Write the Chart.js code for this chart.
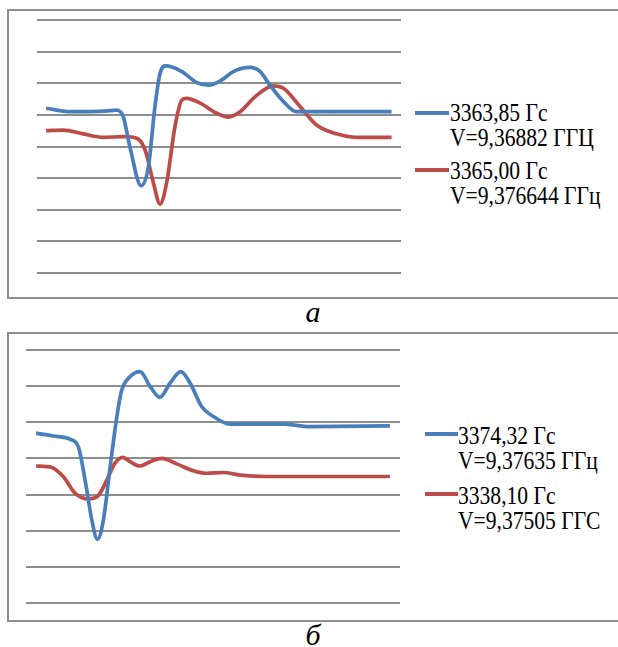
<!DOCTYPE html>
<html><head><meta charset="utf-8">
<script src="https://cdn.jsdelivr.net/npm/chart.js@4/dist/chart.umd.min.js"></script>
<style>
html,body{margin:0;padding:0;background:#fff;}
body{width:618px;height:647px;overflow:hidden;position:relative;font-family:"Liberation Serif","Times New Roman",serif;}
.box{position:absolute;border:2px solid #8f8f8f;box-sizing:border-box;}
.cv{position:absolute;}
.sw{position:absolute;height:4px;}
.txt{position:absolute;font-size:26px;line-height:25px;transform:scaleX(0.83);transform-origin:0 0;color:#000;white-space:nowrap;}
.cap{position:absolute;font-style:italic;font-size:30px;line-height:30px;width:40px;text-align:center;color:#000;}
</style>
</head><body>
<div class="box" style="left:7px;top:9px;width:700px;height:290px;"></div>
<div class="box" style="left:7px;top:332px;width:700px;height:290px;"></div>
<canvas id="cA" class="cv" width="384" height="273" style="left:27px;top:10px;"></canvas>
<canvas id="cB" class="cv" width="394" height="273" style="left:16px;top:340px;"></canvas>
<div id="legA"></div>
<div id="legB"></div>
<div class="cap" style="left:293px;top:297px;">а</div>
<div class="cap" style="left:293px;top:620px;">б</div>
<script>
// ---- Chart (а) ----
const labelsA = [["3363,85 Гс", "V=9,36882 ГГЦ"], ["3365,00 Гс", "V=9,376644 ГГц"]];
const blueA_x = [2.5, 9.1, 18.7, 21.9, 23.7, 25.5, 28.6, 30.6, 32.4, 33.8, 35.4, 39.8, 43.9, 47.1, 50.7, 53.9, 58.5, 61.3, 64.0, 67.7, 71.3, 75.0, 97.4];
const blueA_y = [5.21, 5.10, 5.12, 5.15, 4.94, 4.00, 2.76, 3.36, 5.26, 6.31, 6.55, 6.37, 6.02, 5.94, 6.10, 6.37, 6.50, 6.37, 5.94, 5.42, 5.10, 5.10, 5.10];
const redA_x = [2.5, 7.2, 12.7, 18.2, 23.7, 27.4, 29.7, 32.0, 33.8, 35.6, 37.9, 39.8, 41.1, 44.8, 49.4, 52.5, 55.8, 59.9, 64.9, 67.7, 72.3, 76.8, 82.3, 87.8, 97.4];
const redA_y = [4.50, 4.52, 4.40, 4.29, 4.31, 4.26, 3.89, 2.84, 2.18, 2.84, 4.63, 5.47, 5.52, 5.37, 5.05, 4.93, 5.10, 5.57, 5.92, 5.84, 5.26, 4.68, 4.40, 4.29, 4.29];
const yTicksA = [0, 1, 2, 3, 4, 5, 6, 7, 8];

// ---- Chart (б) ----
const labelsB = [["3374,32 Гс", "V=9,37635 ГГц"], ["3338,10 Гс", "V=9,37505 ГГС"]];
const blueB_x = [2.7, 7.3, 11.8, 14.0, 15.8, 17.6, 19.1, 20.7, 22.5, 24.3, 25.6, 27.8, 30.5, 33.2, 35.8, 38.5, 41.4, 43.9, 47.0, 50.1, 54.5, 68.8, 75.9, 97.3];
const blueB_y = [4.70, 4.62, 4.53, 4.32, 3.40, 2.30, 1.76, 2.30, 3.77, 5.16, 5.89, 6.26, 6.40, 5.99, 5.69, 6.08, 6.40, 6.08, 5.43, 5.16, 4.95, 4.95, 4.88, 4.90];
const redB_x = [2.7, 6.9, 10.0, 13.1, 16.7, 19.3, 21.6, 23.8, 25.9, 27.8, 30.5, 33.2, 36.3, 40.3, 44.7, 48.3, 52.8, 57.2, 64.4, 97.3];
const redB_y = [3.79, 3.75, 3.49, 3.04, 2.88, 2.97, 3.40, 3.87, 4.03, 3.91, 3.79, 3.91, 4.00, 3.85, 3.66, 3.59, 3.61, 3.54, 3.50, 3.50];
const yTicksB = [0, 1, 2, 3, 4, 5, 6, 7];

const BLUE = '#4a7ebb', RED = '#be4b48';
const zip = (xs, ys) => xs.map((x, i) => ({x: x, y: ys[i]}));

function makeChart(id, series, ticks) {
  return new Chart(document.getElementById(id), {
    type: 'line',
    data: {
      datasets: series.map(s => ({
        data: zip(s.x, s.y), borderColor: s.c, borderWidth: 3.7, pointRadius: 0,
        cubicInterpolationMode: 'monotone', fill: false
      }))
    },
    options: {
      responsive: false, animation: false, devicePixelRatio: 1,
      layout: {padding: 10},
      plugins: {legend: {display: false}, tooltip: {enabled: false}},
      scales: {
        x: {type: 'linear', min: 0, max: 100, display: false},
        y: {
          min: ticks[0], max: ticks[ticks.length - 1],
          afterBuildTicks: sc => { sc.ticks = ticks.map(v => ({value: v})); },
          ticks: {display: false},
          grid: {color: '#8e8e8e', lineWidth: 2, drawTicks: false},
          border: {display: false}
        }
      }
    }
  });
}
makeChart('cA', [{x: blueA_x, y: blueA_y, c: BLUE}, {x: redA_x, y: redA_y, c: RED}], yTicksA);
makeChart('cB', [{x: blueB_x, y: blueB_y, c: BLUE}, {x: redB_x, y: redB_y, c: RED}], yTicksB);

function legend(id, labels, pos) {
  const el = document.getElementById(id);
  const cols = [BLUE, RED];
  labels.forEach((lab, i) => {
    const p = pos[i];
    const sw = document.createElement('div');
    sw.className = 'sw';
    sw.style.cssText = `left:${p.lx}px;top:${p.ly - 2}px;width:${p.lw}px;background:${cols[i]};`;
    el.appendChild(sw);
    const t = document.createElement('div');
    t.className = 'txt';
    t.style.left = p.tx + 'px'; t.style.top = p.ty + 'px';
    t.innerHTML = lab.join('<br>');
    el.appendChild(t);
  });
}
legend('legA', labelsA, [{lx: 415, ly: 113, lw: 34, tx: 450, ty: 100}, {lx: 415, ly: 170, lw: 34, tx: 450, ty: 158}]);
legend('legB', labelsB, [{lx: 425, ly: 434, lw: 33, tx: 458, ty: 423}, {lx: 425, ly: 494, lw: 33, tx: 458, ty: 483}]);
</script>
</body></html>
